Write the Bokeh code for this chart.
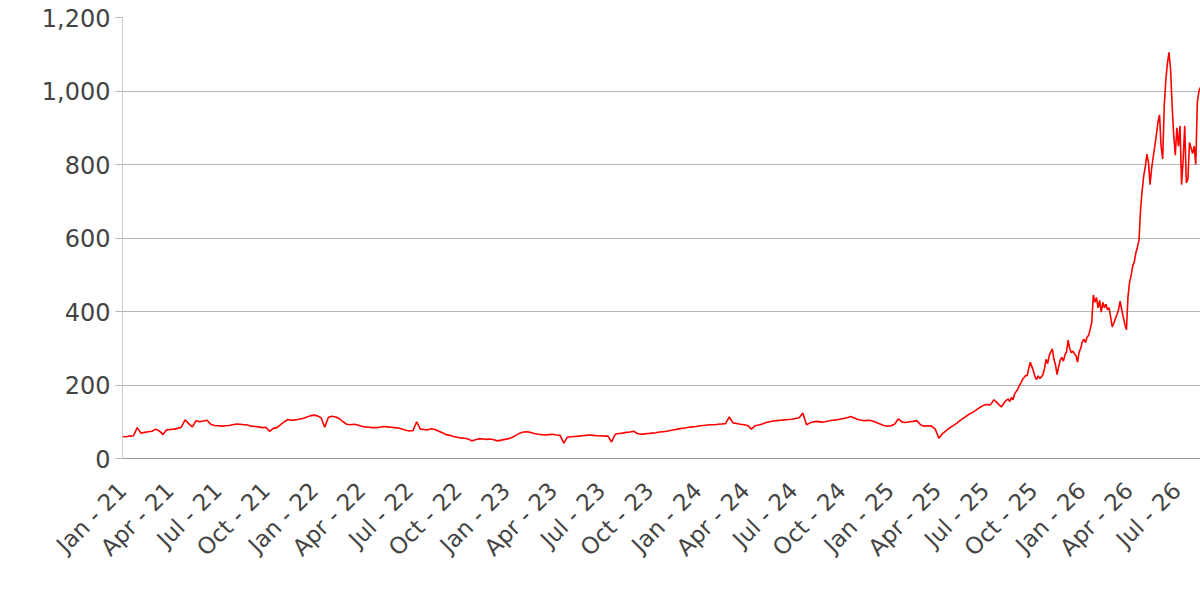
import math
import pandas as pd
from bokeh.plotting import figure
from bokeh.models import (Range1d, FixedTicker, NumeralTickFormatter,
                          DatetimeTickFormatter, MonthsTicker, ColumnDataSource)
from bokeh.embed import file_html
from bokeh.resources import INLINE

# ---- data ----
weekly_start = "2021-01-01"   # one value every 7 days
weekly_values = [
    60, 59, 61, 62, 84, 69, 71, 73, 74, 80,
    75, 65, 78, 79, 80, 82, 85, 105, 95, 86,
    103, 100, 102, 104, 93, 90, 89, 88, 89, 90,
    92, 94, 93, 92, 91, 88, 87, 86, 84, 85,
    74, 82, 84, 92, 100, 106, 104, 105, 107, 109,
    112, 116, 118,
    116, 111, 85, 112, 115, 113, 108,
    100, 93, 92, 93, 91, 88, 86, 85, 84, 84,
    85, 87, 86, 85, 84, 83, 80, 77, 75, 76,
    100, 80, 79, 78, 81, 79, 74, 70, 65, 63,
    60, 58, 56, 55, 53, 48, 51, 54, 53, 52,
    53, 51, 48, 50, 52, 54, 58, 63, 69, 72,
    73, 71, 68, 66, 65, 64, 65, 66, 64, 63,
    42, 58, 59, 60, 61, 62, 63, 64, 63, 62,
    62, 61, 61, 45, 66, 68, 69, 71, 72, 74,
    68, 66, 67, 68, 69, 70, 72, 73, 74, 76,
    78, 80, 82, 83, 85, 86, 87, 89, 90, 91,
    92, 92, 93, 94, 95, 113, 97, 95, 93, 92,
    90, 80, 89, 91, 94, 98, 100, 102, 103, 104,
    105, 106, 107, 109, 111, 124, 92, 97, 100, 101,
    99, 100, 102, 104, 105, 107, 109, 111, 114, 110,
    106, 104, 103, 104, 102, 98, 94, 90, 88, 89,
    94, 108, 99, 98, 100, 101, 103, 92, 88, 89,
    88, 80, 55, 68, 76, 84, 90, 97, 105, 112,
    119, 125, 131, 138, 144, 147, 146, 160, 150, 140,
    155,
]

dense_start = "2025-08-11"    # one value every 3 days
dense_values = [
    159, 162, 155, 166, 160, 175, 182, 188, 198, 205,
    215, 220, 226, 225, 245, 262, 250, 238, 222, 215,
    225, 218, 222, 228, 245, 270, 258, 280, 290, 298,
    270, 255, 228, 250, 268, 275, 265, 282, 290, 322,
    300, 288, 292, 285, 280, 262, 290, 300, 318, 325,
    315, 330, 335, 352, 370, 445, 425, 438, 410, 430,
    398, 425, 410, 420, 405, 410, 385, 358, 368, 380,
    392, 405, 428, 405, 385, 365, 350, 440, 480, 498,
    525, 535, 560, 575, 595, 680, 730, 770, 795, 828,
    805, 745, 790, 820, 850, 880, 915, 935, 850, 815,
    960, 1030, 1075, 1105, 1060, 960, 880, 825, 900, 850,
    905, 745, 815, 905, 750, 760, 860, 845, 830, 850,
    800, 970, 1000, 1010,
]

y_ticks = [0, 200, 400, 600, 800, 1000, 1200]
x_tick_months = [0, 3, 6, 9]   # Jan, Apr, Jul, Oct

dates = list(pd.date_range(weekly_start, periods=len(weekly_values), freq="7D")) + \
        list(pd.date_range(dense_start, periods=len(dense_values), freq="3D"))
values = weekly_values + dense_values
src = ColumnDataSource(data=dict(date=dates, value=values))

FONT = "DejaVu Sans"
TXT = "#444444"

p = figure(width=1200, height=592, x_axis_type="datetime",
           output_backend="svg", toolbar_location=None,
           x_range=Range1d(dates[0], dates[-1]),
           y_range=Range1d(y_ticks[0], y_ticks[-1]),
           min_border_left=122, min_border_top=17,
           min_border_bottom=134, min_border_right=0)
p.outline_line_color = None
p.background_fill_color = "white"

p.line("date", "value", source=src, color="#ff0000", line_width=1.6)

# grid
p.xgrid.grid_line_color = None
p.ygrid.grid_line_color = "#b5b5b5"
p.ygrid.ticker = FixedTicker(ticks=y_ticks)

# y axis
ya = p.yaxis[0]
ya.ticker = FixedTicker(ticks=y_ticks)
ya.formatter = NumeralTickFormatter(format="0,0")
ya.axis_line_color = "#cccccc"
ya.major_tick_line_color = "#b5b5b5"
ya.major_tick_out = 7
ya.major_tick_in = 0
ya.minor_tick_line_color = None
ya.major_label_text_font = FONT
ya.major_label_text_font_size = "24px"
ya.major_label_text_color = TXT
ya.major_label_standoff = 5

# x axis
xa = p.xaxis[0]
xa.ticker = MonthsTicker(months=x_tick_months)
fmt = "%b - %y"
xa.formatter = DatetimeTickFormatter(months=fmt, days=fmt, years=fmt,
                                     hours=fmt, minutes=fmt)
xa.axis_line_color = "#999999"
xa.major_tick_line_color = None
xa.minor_tick_line_color = None
xa.major_label_orientation = math.pi / 4
xa.major_label_text_font = FONT
xa.major_label_text_font_size = "23px"
xa.major_label_text_color = TXT
xa.major_label_standoff = 22

open("out.html", "w").write(file_html(p, INLINE))
